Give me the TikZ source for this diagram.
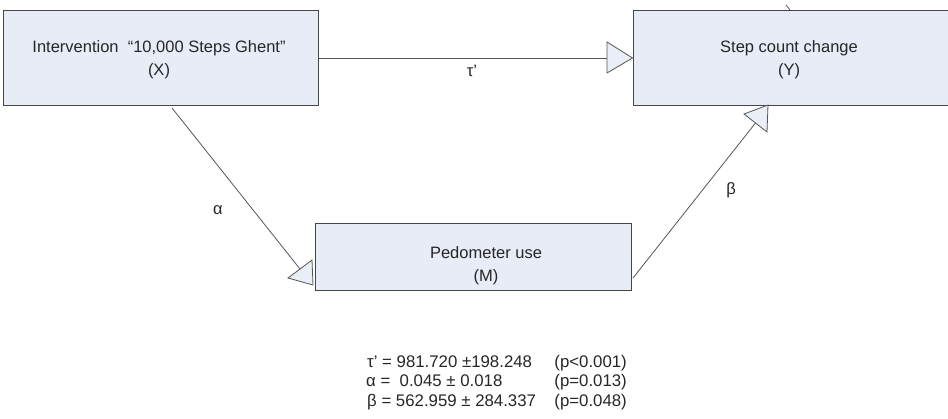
\documentclass[tikz,border=0pt]{standalone}
\usepackage{fontspec}
\setmainfont{Liberation Sans}
\definecolor{boxfill}{RGB}{232,236,247}
\definecolor{edgec}{RGB}{70,70,70}
\definecolor{connc}{RGB}{85,85,85}
\definecolor{headfill}{RGB}{234,238,246}
\begin{document}
\begin{tikzpicture}[x=1pt,y=-1pt,
  box/.style={draw=edgec, fill=boxfill, line width=0.9pt, inner sep=0pt},
  lbl/.style={font=\fontsize{16.5}{23}\selectfont, align=center, text=black!85, inner sep=0pt},
  res/.style={font=\fontsize{16.8}{20}\selectfont, text=black!85, inner sep=0pt, anchor=base west},
  pval/.style={font=\fontsize{16.8}{20}\selectfont, text=black!85, inner sep=0pt, anchor=base east},
  conn/.style={draw=connc, line width=0.8pt},
  head/.style={draw=connc, fill=headfill, line width=0.8pt, line join=miter}]
\useasboundingbox (0,0) rectangle (948,419);
% boxes
\node[box, minimum width=315pt, minimum height=95pt] (X) at (160.5,57.5) {};
\node[box, minimum width=324pt, minimum height=95pt] (Y) at (795,57.5) {};
\node[box, minimum width=316pt, minimum height=67pt] (M) at (473,256.5) {};
% box texts
\node[lbl] (Xt) at (159,60) {Intervention\ \ “10,000 Steps Ghent”\\(X)};
\node[lbl] (Yt) at (789,60) {Step count change\\(Y)};
\node[lbl] (Mt) at (486,266) {Pedometer use\\(M)};
% connector coordinates
\coordinate (xyb) at (607,58);
\coordinate (xyt) at (607,42);
\coordinate (xyu) at (607,73);
\coordinate (xms) at (172,108);
\coordinate (xme) at (300,269);
\coordinate (xma) at (288,278);
\coordinate (xmb) at (312,260);
\coordinate (xmc) at (313,285);
\coordinate (mys) at (633,278);
\coordinate (mye) at (755.5,123);
\coordinate (mya) at (744,114);
\coordinate (myb) at (768,105);
\coordinate (myc) at (767,132);
\coordinate (stubA) at (786,5);
\coordinate (stubB) at (790,10);
% connectors
\draw[conn] (X.east |- xyb) -- (xyb);
\filldraw[head] (xyt) -- (Y.west |- xyb) -- (xyu) -- cycle;
\draw[conn] (xms) -- (xme);
\filldraw[head] (xma) -- (xmb) -- (xmc) -- cycle;
\draw[conn] (mys) -- (mye);
\filldraw[head] (mya) -- (myb) -- (myc) -- cycle;
\draw[conn] (stubA) -- (stubB);
% path labels
\node[lbl] (tau) at (472,71) {τ’};
\node[lbl] (alpha) at (218,210) {α};
\node[lbl] (beta) at (731,190) {β};
% results
\node[res] (r1) at (367,368) {τ’ = 981.720 ±198.248};
\node[pval] (p1) at (627,368) {(p<0.001)};
\node[res] (r2) at (366,387) {α =\ \ 0.045 ± 0.018};
\node[pval] (p2) at (627,387) {(p=0.013)};
\node[res] (r3) at (367,407) {β = 562.959 ± 284.337};
\node[pval] (p3) at (627,407) {(p=0.048)};
\end{tikzpicture}
\end{document}
